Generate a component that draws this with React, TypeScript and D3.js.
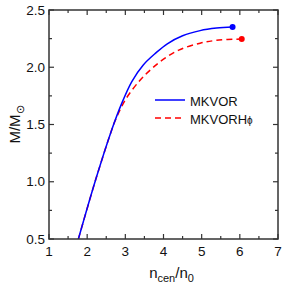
import * as d3 from "d3";

// MKVOR mass vs central density
const mkvorN = [1.77, 2.22, 2.64, 2.9, 3.17, 3.47, 3.8, 4.1, 4.5, 4.96, 5.39, 5.81];
const mkvorM = [0.5, 1.015, 1.45, 1.68, 1.875, 2.02, 2.125, 2.205, 2.275, 2.32, 2.342, 2.352];

// MKVORHphi
const hphiN = [1.77, 2.22, 2.64, 2.73, 2.99, 3.38, 3.7, 4.0, 4.4, 4.96, 5.39, 6.05];
const hphiM = [0.5, 1.015, 1.45, 1.53, 1.71, 1.885, 1.99, 2.07, 2.15, 2.21, 2.235, 2.247];

const xTicks = [1, 2, 3, 4, 5, 6, 7];
const yTicks = [0.5, 1.0, 1.5, 2.0, 2.5];

const W = 284;
const H = 290;
const left = 49, right = 278, top = 10, bottom = 239;

export default function App() {
  const x = d3.scaleLinear().domain([1, 7]).range([left, right]);
  const y = d3.scaleLinear().domain([0.5, 2.5]).range([bottom, top]);

  const line = d3
    .line<[number, number]>()
    .x((d) => x(d[0]))
    .y((d) => y(d[1]))
    .curve(d3.curveCatmullRom.alpha(0.5));

  const blue = mkvorN.map((n, i) => [n, mkvorM[i]] as [number, number]);
  const red = hphiN.map((n, i) => [n, hphiM[i]] as [number, number]);

  const xMinor = d3.range(1.5, 7, 1);
  const yMinor = d3.range(0.75, 2.5, 0.5);
  const axisCol = "#333";
  const font = "'Liberation Sans', Arial, sans-serif";

  return (
    <svg
      width={W}
      height={H}
      style={{ position: "fixed", left: 0, top: 0, background: "#fff" }}
      fontFamily={font}
    >
      <defs>
        <clipPath id="plot">
          <rect x={left} y={top} width={right - left} height={bottom - top} />
        </clipPath>
      </defs>

      <g clipPath="url(#plot)">
        <path d={line(red) ?? ""} fill="none" stroke="#ff0000" strokeWidth={1.5} strokeDasharray="6,4" />
        <path d={line(blue) ?? ""} fill="none" stroke="#0000ff" strokeWidth={1.5} />
      </g>
      <circle cx={x(hphiN[hphiN.length - 1])} cy={y(hphiM[hphiM.length - 1])} r={3} fill="#ff0000" />
      <circle cx={x(mkvorN[mkvorN.length - 1])} cy={y(mkvorM[mkvorM.length - 1])} r={3} fill="#0000ff" />

      {/* frame */}
      <rect x={left} y={top} width={right - left} height={bottom - top} fill="none" stroke={axisCol} strokeWidth={1.5} />

      {/* ticks */}
      {xTicks.map((t) => (
        <g key={"xt" + t}>
          <line x1={x(t)} x2={x(t)} y1={bottom} y2={bottom - 5} stroke={axisCol} strokeWidth={1.2} />
          <line x1={x(t)} x2={x(t)} y1={top} y2={top + 5} stroke={axisCol} strokeWidth={1.2} />
          <text x={x(t)} y={bottom + 17} fontSize={13.5} textAnchor="middle" fill="#111">
            {t}
          </text>
        </g>
      ))}
      {xMinor.map((t) => (
        <g key={"xm" + t}>
          <line x1={x(t)} x2={x(t)} y1={bottom} y2={bottom - 3} stroke={axisCol} strokeWidth={1.2} />
          <line x1={x(t)} x2={x(t)} y1={top} y2={top + 3} stroke={axisCol} strokeWidth={1.2} />
        </g>
      ))}
      {yTicks.map((t) => (
        <g key={"yt" + t}>
          <line x1={left} x2={left + 5} y1={y(t)} y2={y(t)} stroke={axisCol} strokeWidth={1.2} />
          <line x1={right} x2={right - 5} y1={y(t)} y2={y(t)} stroke={axisCol} strokeWidth={1.2} />
          <text x={left - 4} y={y(t) + 4.5} fontSize={13.5} textAnchor="end" fill="#111">
            {d3.format(".1f")(t)}
          </text>
        </g>
      ))}
      {yMinor.map((t) => (
        <g key={"ym" + t}>
          <line x1={left} x2={left + 3} y1={y(t)} y2={y(t)} stroke={axisCol} strokeWidth={1.2} />
          <line x1={right} x2={right - 3} y1={y(t)} y2={y(t)} stroke={axisCol} strokeWidth={1.2} />
        </g>
      ))}

      {/* legend */}
      <line x1={155} x2={185} y1={100} y2={100} stroke="#0000ff" strokeWidth={1.5} />
      <text x={190} y={106} fontSize={13} fill="#111">MKVOR</text>
      <line x1={155} x2={185} y1={118} y2={118} stroke="#ff0000" strokeWidth={1.5} strokeDasharray="6,4" />
      <text x={190} y={124} fontSize={13} fill="#111">
        MKVORH<tspan fontSize={10}>ϕ</tspan>
      </text>

      {/* axis titles */}
      <text x={(left + right) / 2 + 8} y={278} fontSize={15} textAnchor="middle" fill="#111">
        n<tspan fontSize={11} dy={4}>cen</tspan>
        <tspan dy={-4}>/n</tspan>
        <tspan fontSize={11} dy={4}>0</tspan>
      </text>
      <text
        transform={`translate(20, ${(top + bottom) / 2}) rotate(-90)`}
        fontSize={15}
        textAnchor="middle"
        fill="#111"
      >
        M/M<tspan fontSize={11} dy={4}>⊙</tspan>
      </text>
    </svg>
  );
}
